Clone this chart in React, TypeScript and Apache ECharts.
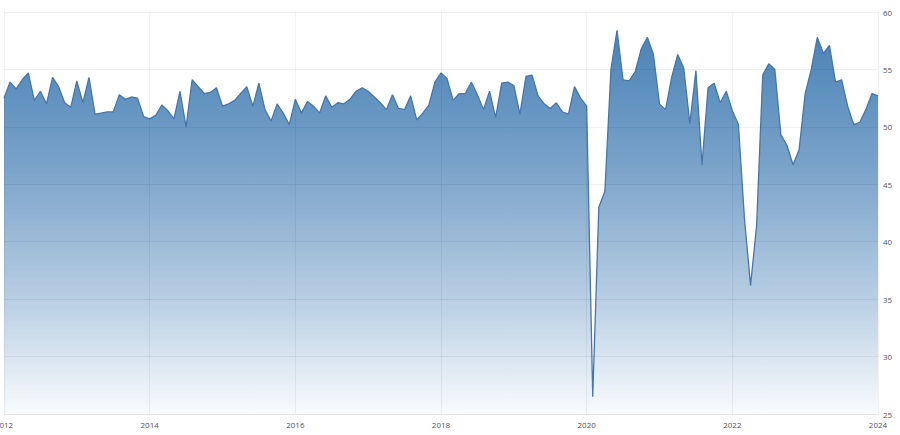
import { useEffect, useRef } from 'react'
import * as echarts from 'echarts'

// monthly readings, Jan 2012 .. Jan 2024
const startYear = 2012
const pmiValues: number[] = [
  // 2012
  52.5, 53.9, 53.3, 54.1, 54.7, 52.3, 53.1, 52.0, 54.3, 53.5, 52.1, 51.7,
  // 2013
  54.0, 52.1, 54.3, 51.1, 51.2, 51.3, 51.3, 52.8, 52.4, 52.6, 52.5, 50.9,
  // 2014
  50.7, 51.0, 51.9, 51.4, 50.7, 53.1, 50.0, 54.1, 53.5, 52.9, 53.0, 53.4,
  // 2015
  51.8, 52.0, 52.3, 52.9, 53.5, 51.8, 53.8, 51.5, 50.5, 52.0, 51.2, 50.2,
  // 2016
  52.4, 51.2, 52.2, 51.8, 51.2, 52.7, 51.7, 52.1, 52.0, 52.4, 53.1, 53.4,
  // 2017
  53.1, 52.6, 52.1, 51.5, 52.8, 51.6, 51.5, 52.7, 50.6, 51.2, 51.9, 53.9,
  // 2018
  54.7, 54.2, 52.3, 52.9, 52.9, 53.9, 52.8, 51.5, 53.1, 50.8, 53.8, 53.9,
  // 2019
  53.6, 51.1, 54.4, 54.5, 52.7, 52.0, 51.6, 52.1, 51.3, 51.1, 53.5, 52.5,
  // 2020
  51.8, 26.5, 43.0, 44.4, 55.0, 58.4, 54.1, 54.0, 54.8, 56.8, 57.8, 56.3,
  // 2021
  52.0, 51.5, 54.3, 56.3, 55.1, 50.3, 54.9, 46.7, 53.4, 53.8, 52.1, 53.1,
  // 2022
  51.4, 50.2, 42.0, 36.2, 41.4, 54.5, 55.5, 55.0, 49.3, 48.4, 46.7, 48.0,
  // 2023
  52.9, 55.0, 57.8, 56.4, 57.1, 53.9, 54.1, 51.8, 50.2, 50.4, 51.5, 52.9,
  // 2024
  52.7,
]

const xTicks = [2012, 2014, 2016, 2018, 2020, 2022, 2024]
const yTicks = [25, 30, 35, 40, 45, 50, 55, 60]

export default function App() {
  const chartRef = useRef<HTMLDivElement>(null)

  useEffect(() => {
    if (!chartRef.current) return
    const chart = echarts.init(chartRef.current, undefined, { renderer: 'svg' })

    const seriesData = pmiValues.map((v, i) => [startYear + i / 12, v])
    // grid lines sit on top of the fill, semi-transparent
    const gridColor = 'rgba(0, 0, 0, 0.055)'

    chart.setOption({
      animation: false,
      textStyle: { fontFamily: '"Open Sans", Arial, sans-serif' },
      grid: {
        left: 4,
        right: 22,
        top: 12,
        bottom: 21,
        containLabel: false,
        outerBoundsMode: 'none',
      },
      xAxis: {
        type: 'value',
        z: 5,
        min: xTicks[0],
        max: xTicks[xTicks.length - 1],
        interval: 2,
        axisLine: { show: true, lineStyle: { color: gridColor } },
        axisTick: { show: false },
        splitLine: { show: true, lineStyle: { color: gridColor, width: 1 } },
        axisLabel: {
          color: '#555',
          fontSize: 8,
          margin: 6,
          showMinLabel: true,
          showMaxLabel: true,
          hideOverlap: false,
          formatter: (v: number) => String(Math.round(v)),
        },
      },
      yAxis: {
        type: 'value',
        position: 'right',
        z: 5,
        min: yTicks[0],
        max: yTicks[yTicks.length - 1],
        interval: 5,
        axisLine: { show: false },
        axisTick: { show: false },
        splitLine: { show: true, lineStyle: { color: gridColor, width: 1 } },
        axisLabel: {
          color: '#555',
          fontSize: 8,
          margin: 5,
        },
      },
      series: [
        {
          type: 'line',
          z: 2,
          data: seriesData,
          symbol: 'none',
          lineStyle: { color: '#4677a8', width: 1.3 },
          areaStyle: {
            origin: 'start',
            opacity: 1,
            color: new echarts.graphic.LinearGradient(0, 0, 0, 1, [
              { offset: 0, color: '#4a82b6' },
              { offset: 0.35, color: '#79a2c9' },
              { offset: 0.7, color: '#b8cee3' },
              { offset: 1, color: '#f9fbfd' },
            ]),
          },
        },
      ],
    })

    return () => {
      chart.dispose()
    }
  }, [])

  return (
    <div
      ref={chartRef}
      style={{ position: 'fixed', left: 0, top: 0, width: 900, height: 435, background: '#fff' }}
    />
  )
}
